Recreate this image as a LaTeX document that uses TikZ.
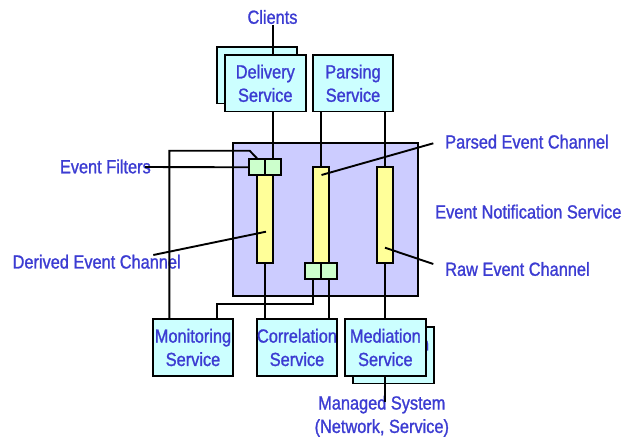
\documentclass[tikz,border=0pt]{standalone}
\usepackage{fontspec}
\setmainfont{Liberation Sans}[FakeStretch=0.86,FakeBold=1.2]
\usetikzlibrary{calc}
\definecolor{txtblue}{RGB}{60,60,210}
\definecolor{svcfill}{HTML}{CCFFFF}
\definecolor{ensfill}{HTML}{CCCCFF}
\definecolor{chanfill}{HTML}{FFFF99}
\definecolor{filtfill}{HTML}{CCFFCC}
\begin{document}
\begin{tikzpicture}[x=1bp,y=-1bp,line width=1.9bp,
  lbl/.style={text=txtblue,inner sep=0pt,align=center,font=\fontsize{19bp}{23.4bp}\selectfont},
  svc/.style={draw,fill=svcfill,minimum width=80.6bp,minimum height=56.4bp,inner sep=0pt,
    align=center,text=txtblue,font=\fontsize{19bp}{23.4bp}\selectfont},
  chan/.style={draw,fill=chanfill,minimum width=16.3bp,inner sep=0pt},
  filt/.style={draw,fill=filtfill,minimum width=16.2bp,minimum height=16bp,inner sep=0pt}]
\useasboundingbox (0,0) rectangle (627,441);
% event notification service box
\node[draw,fill=ensfill,minimum width=185bp,minimum height=152.4bp,inner sep=0pt] (ens) at (325.2,219.5) {};
% back boxes
\node[svc] (delivb) at (257,75.3) {};
\node[svc] (medb) at (393.7,355.3) {Mediation\\\phantom{Service}};
% services
\node[svc] (deliv) at (265.3,83.3) {Delivery\\Service};
\node[svc] (pars) at (353,83.3) {Parsing\\Service};
\node[svc] (mon) at (193,347.5) {Monitoring\\Service};
\node[svc] (corr) at (297,347.5) {Correlation\\Service};
\node[svc] (med) at (385.35,347.5) {Mediation\\Service};
% channels
\node[chan,minimum height=88bp] (chan1) at (265,219.3) {};
\node[chan,minimum height=96bp] (chan2) at (321.2,215.3) {};
\node[chan,minimum height=96bp] (chan3) at (385.2,215.3) {};
% filters
\node[filt] (f1a) at (257,167.3) {};
\node[filt] (f1b) at (273.2,167.3) {};
\node[filt] (f2a) at (313,271.3) {};
\node[filt] (f2b) at (329.2,271.3) {};
% labels
\node[lbl] (clients) at (272.5,17) {Clients};
\node[lbl,anchor=east] (filters) at (151.7,166.5) {Event Filters};
\node[lbl,anchor=west] (derived) at (11.7,261.7) {Derived Event Channel};
\node[lbl,anchor=west] (parsed) at (444.3,141.7) {Parsed Event Channel};
\node[lbl,anchor=west] (enslbl) at (434.3,211.7) {Event Notification Service};
\node[lbl,anchor=west] (raw) at (444.3,269) {Raw Event Channel};
\node[lbl] (msys) at (381.8,416.3) {Managed System\\(Network, Service)};
% connector ends
\coordinate (cl) at (273.2,25);
\coordinate (ms) at (385.35,402.3);
\coordinate (efs) at (145,167);
\coordinate (dcs) at (153.3,255);
\coordinate (dce) at (266,231.7);
\coordinate (pcs) at (433.3,143.3);
\coordinate (pce) at (321.5,175);
\coordinate (rcs) at (433.3,264);
\coordinate (rce) at (385,247.7);
% connectors
\draw (cl) -- (cl |- deliv.north);
\draw (f1b.north |- deliv.south) -- (f1b.north);
\draw (chan2.north |- pars.south) -- (chan2.north);
\draw (chan3.north |- pars.south) -- (chan3.north);
\draw (chan1.south) -- (chan1.south |- corr.north);
\draw (f2b.south) -- (f2b.south |- corr.north);
\draw (chan3.south) -- (chan3.south |- med.north);
\draw (med.south) -- (ms);
\draw (f2a.south) -- ++(0,24) -| ([xshift=24.3bp]mon.north);
\draw (f1a.north) -- ++(-7.3,-7.6) -| ([xshift=-23.7bp]mon.north);
% leader lines
\draw (efs) -- (f1a.west);
\draw (dcs) -- (dce);
\draw (pcs) -- (pce);
\draw (rcs) -- (rce);
\end{tikzpicture}
\end{document}
